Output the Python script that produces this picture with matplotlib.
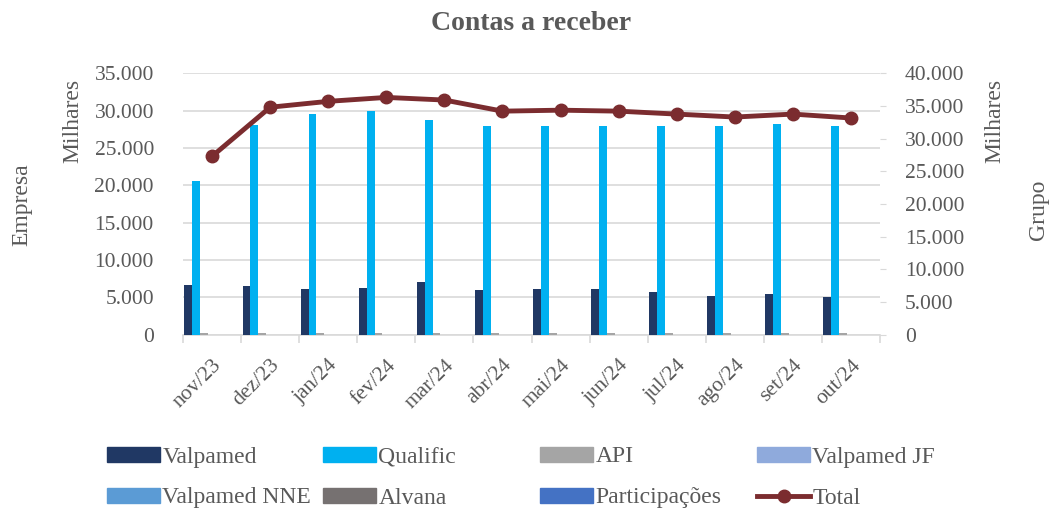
import numpy as np
import matplotlib
matplotlib.use("Agg")
import matplotlib.pyplot as plt
from matplotlib.ticker import FuncFormatter, FixedLocator
from matplotlib.lines import Line2D
from matplotlib.patches import Patch

# data (thousands)
months = ["nov/23", "dez/23", "jan/24", "fev/24", "mar/24", "abr/24",
          "mai/24", "jun/24", "jul/24", "ago/24", "set/24", "out/24"]
valpamed = [6700, 6600, 6100, 6300, 7100, 6000, 6100, 6100, 5700, 5200, 5500, 5100]
qualific = [20600, 28100, 29500, 29900, 28700, 27900, 28000, 27900, 27900, 28000, 28200, 27900]
api = [250, 250, 260, 260, 260, 250, 250, 250, 250, 250, 250, 250]
valpamed_jf = [0] * 12
valpamed_nne = [0] * 12
alvana = [0] * 12
participacoes = [0] * 12
total = [27300, 34800, 35700, 36300, 35900, 34200, 34350, 34200, 33750, 33300, 33750, 33150]

series = [("Valpamed", valpamed, "#203864"),
          ("Qualific", qualific, "#00b0f0"),
          ("API", api, "#a5a5a5"),
          ("Valpamed JF", valpamed_jf, "#8faadc"),
          ("Valpamed NNE", valpamed_nne, "#5b9bd5"),
          ("Alvana", alvana, "#767171"),
          ("Participações", participacoes, "#4472c4")]

plt.rcParams['font.family'] = ['Liberation Serif', 'DejaVu Serif']
txt = "#595959"
grid = "#d9d9d9"
line_col = "#7b2c2f"
fs_tick = 15.5
fs_lab = 17

fig = plt.figure(figsize=(10.52, 5.12), dpi=100)
ax = fig.add_axes([0.174, 0.346, 0.6625, 0.511])
x = np.arange(len(months))
n = len(series)
group = 0.95
w = group / n
for k, (name, vals, col) in enumerate(series):
    ax.bar(x - group / 2 + (k + 0.5) * w, vals, w, color=col, zorder=3)

ax.set_xlim(-0.5, len(months) - 0.5)
ax.set_ylim(0, 35000)
ax.set_yticks(np.arange(0, 35001, 5000))
fmt = FuncFormatter(lambda v, p: f"{int(v):,}".replace(",", "."))
ax.yaxis.set_major_formatter(fmt)
ax.yaxis.grid(True, color=grid, linewidth=1.2, zorder=0)
ax.tick_params(axis='y', length=0, labelsize=fs_tick, labelcolor=txt, pad=21)
ax.set_xticks(x)
ax.set_xticklabels(months, rotation=45, ha='right', rotation_mode='anchor',
                   fontsize=fs_tick, color=txt)
ax.tick_params(axis='x', which='major', length=0, pad=15)
ax.xaxis.set_minor_locator(FixedLocator(np.arange(-0.5, len(months), 1.0)))
ax.tick_params(axis='x', which='minor', length=6, color=grid, width=1.2)
for s in ['top', 'right', 'left']:
    ax.spines[s].set_visible(False)
ax.spines['bottom'].set_color(grid)
ax.spines['bottom'].set_linewidth(1.2)

ax2 = ax.twinx()
ax2.plot(x, total, color=line_col, linewidth=3.5, marker='o', markersize=9, zorder=5)
ax2.set_ylim(0, 40000)
ax2.set_yticks(np.arange(0, 40001, 5000))
ax2.yaxis.set_major_formatter(fmt)
ax2.tick_params(axis='y', length=4, color=grid, labelsize=fs_tick, labelcolor=txt, pad=14)
for s in ['top', 'right', 'left', 'bottom']:
    ax2.spines[s].set_visible(False)

fig.text(0.505, 0.955, "Contas a receber", ha='center', va='center',
         fontsize=20, fontweight='bold', color=txt)
fig.text(0.021, 0.60, "Empresa", rotation=90, ha='center', va='center', fontsize=fs_lab, color=txt)
fig.text(0.069, 0.764, "Milhares", rotation=90, ha='center', va='center', fontsize=fs_lab, color=txt)
fig.text(0.946, 0.764, "Milhares", rotation=90, ha='center', va='center', fontsize=fs_lab, color=txt)
fig.text(0.987, 0.59, "Grupo", rotation=90, ha='center', va='center', fontsize=fs_lab, color=txt)

# legend: one entry per slot, Excel-style uniform grid
handles = [Patch(color=c) for _, _, c in series]
handles.append(Line2D([], [], color=line_col, linewidth=3.5, marker='o', markersize=9))
labels = [s[0] for s in series] + ["Total"]
col_x = [107, 323, 540, 757]
row_y = [457, 498]
for i, (h, lab) in enumerate(zip(handles, labels)):
    cx = col_x[i % 4] / 1052
    cy = 1 - row_y[i // 4] / 512
    lg = fig.legend([h], [lab], loc='center left', bbox_to_anchor=(cx, cy),
                    frameon=False, fontsize=fs_lab, handlelength=2.25, handleheight=0.6,
                    handletextpad=0.1, borderpad=0, borderaxespad=0)
    for t in lg.get_texts():
        t.set_color(txt)

fig.savefig("out.png", dpi=100)
